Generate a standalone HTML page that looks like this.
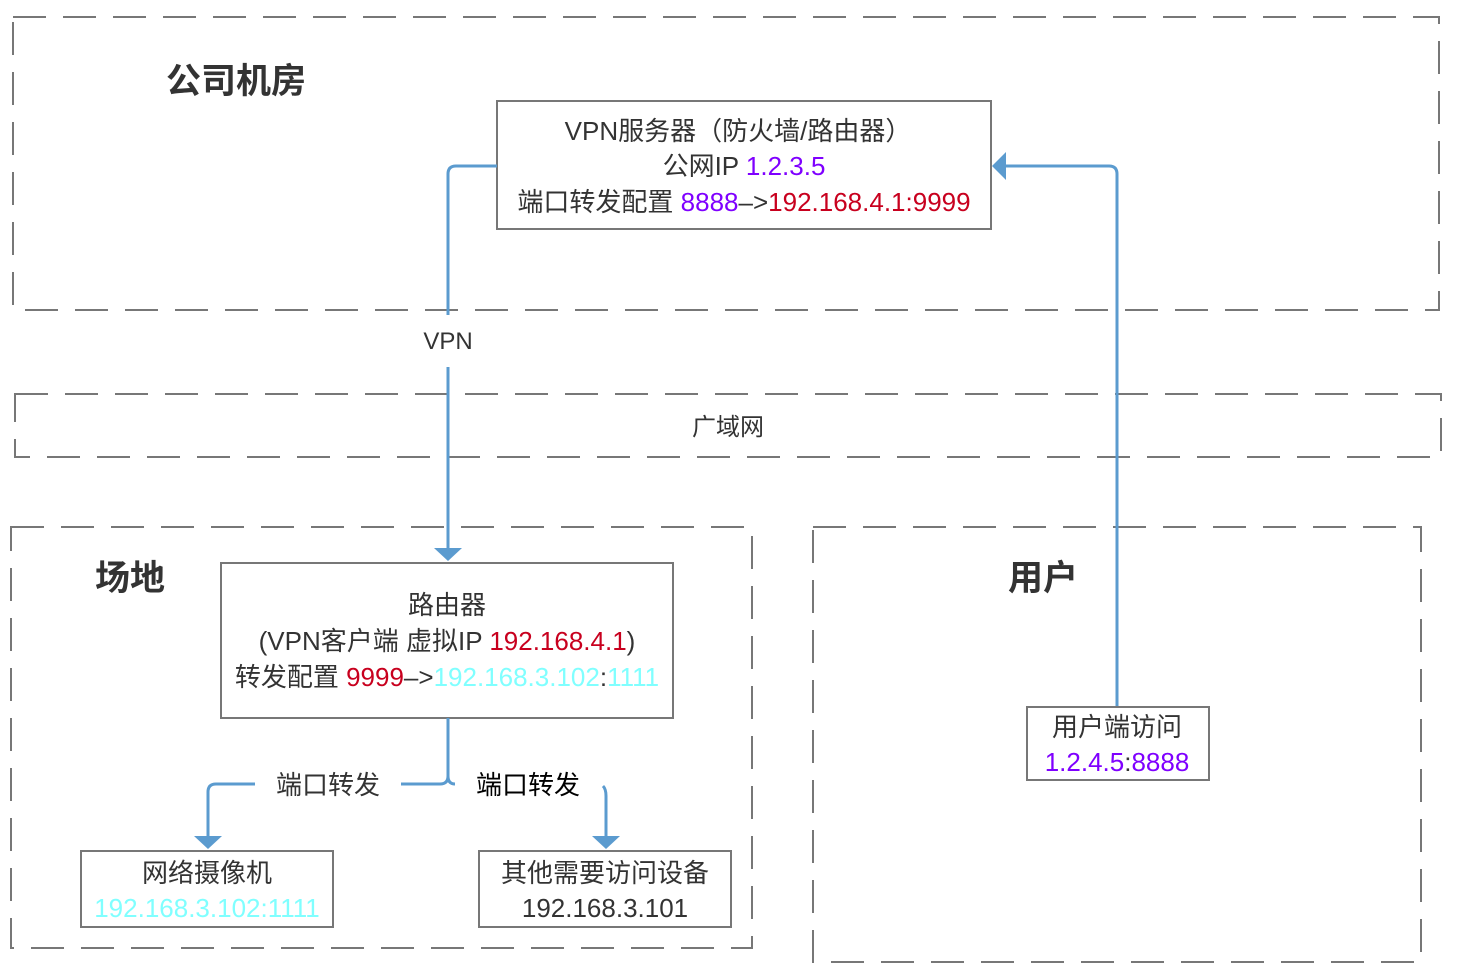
<!DOCTYPE html>
<html><head><meta charset="utf-8"><style>
html,body{margin:0;padding:0;background:#fff;width:1464px;height:976px;overflow:hidden}
svg text{font-family:"Liberation Sans","Noto Sans CJK SC",sans-serif;fill:#333}
</style></head><body>
<svg width="1464" height="976" viewBox="0 0 1464 976" xmlns="http://www.w3.org/2000/svg">
<g fill="none" stroke="#777" stroke-width="2" stroke-dasharray="33 17">
<rect x="13" y="17" width="1426" height="293"/>
<rect x="15" y="394" width="1426" height="63"/>
<rect x="11" y="527" width="741" height="421"/>
<rect x="813" y="527" width="608" height="435"/>
</g>
<g fill="#fff" stroke="#777" stroke-width="2">
<rect x="497" y="101" width="494" height="128"/>
<rect x="221" y="563" width="452" height="155"/>
<rect x="1027" y="707" width="182" height="73"/>
<rect x="81" y="851" width="252" height="76"/>
<rect x="479" y="851" width="252" height="76"/>
</g>
<g fill="none" stroke="#5b9bcf" stroke-width="3">
<path d="M497 166 H456 Q448 166 448 174 V315"/>
<path d="M448 367 V550"/>
<path d="M1117 706 V174 Q1117 166 1109 166 H1004"/>
<path d="M448 718 V776 Q448 784 440 784 H401"/>
<path d="M448 776 Q448 784 455 784"/>
<path d="M255 784 H216 Q208 784 208 792 V838"/>
<path d="M603 786 Q606 789 606 796 V838"/>
</g>
<g fill="#5b9bcf">
<polygon points="434,548 462,548 448,561"/>
<polygon points="1006,152 1006,180 992,166"/>
<polygon points="194,836 222,836 208,849"/>
<polygon points="592,836 620,836 606,849"/>
</g>
<text x="236" y="93" font-size="35" font-weight="bold" text-anchor="middle">公司机房</text>
<text x="130" y="590" font-size="35" font-weight="bold" text-anchor="middle">场地</text>
<text x="1043" y="590" font-size="35" font-weight="bold" text-anchor="middle">用户</text>
<text x="728" y="435" font-size="24" text-anchor="middle">广域网</text>
<text x="448" y="349" font-size="24" text-anchor="middle">VPN</text>
<g font-size="26" text-anchor="middle">
<text x="738" y="140">VPN服务器（防火墙/路由器）</text>
<text x="744" y="175">公网IP <tspan style="fill:#7f00ff">1.2.3.5</tspan></text>
<text x="744" y="211">端口转发配置 <tspan style="fill:#7f00ff">8888</tspan>–&gt;<tspan style="fill:#c8001e">192.168.4.1:9999</tspan></text>
<text x="447" y="614">路由器</text>
<text x="447" y="650">(VPN客户端 虚拟IP  <tspan style="fill:#c8001e">192.168.4.1</tspan>)</text>
<text x="447" y="686">转发配置 <tspan style="fill:#c8001e">9999</tspan>–&gt;<tspan style="fill:#80ffff">192.168.3.102</tspan>:<tspan style="fill:#80ffff">1111</tspan></text>
<text x="1117" y="736">用户端访问</text>
<text x="1117" y="771"><tspan style="fill:#7f00ff">1.2.4.5</tspan>:<tspan style="fill:#7f00ff">8888</tspan></text>
<text x="207" y="882">网络摄像机</text>
<text x="207" y="917" style="fill:#80ffff">192.168.3.102:1111</text>
<text x="605" y="882">其他需要访问设备</text>
<text x="605" y="917">192.168.3.101</text>
<text x="328" y="794">端口转发</text>
<text x="528" y="794" style="fill:#000">端口转发</text>
</g>
</svg>
</body></html>
